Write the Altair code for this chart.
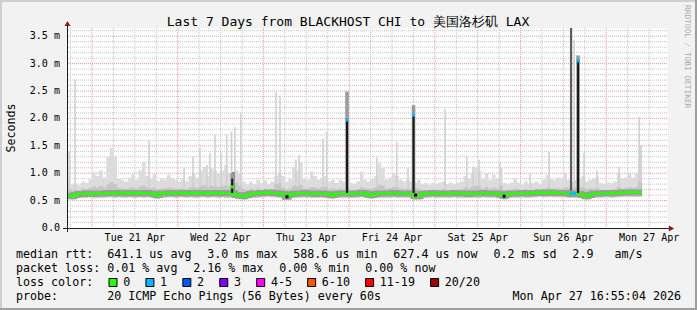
import altair as alt
import pandas as pd

# ---------------- text ----------------
title_text = "Last 7 Days from BLACKHOST CHI to 美国洛杉矶 LAX"
unit_label = "Seconds"
watermark = "RRDTOOL / TOBI OETIKER"

day_label_hours = [19, 43, 67, 91, 115, 139, 163]
day_labels = ["Tue 21 Apr", "Wed 22 Apr", "Thu 23 Apr", "Fri 24 Apr",
              "Sat 25 Apr", "Sun 26 Apr", "Mon 27 Apr"]
y_label_values = [0.0, 0.5, 1.0, 1.5, 2.0, 2.5, 3.0, 3.5]
y_labels = ["0.0", "0.5 m", "1.0 m", "1.5 m", "2.0 m", "2.5 m", "3.0 m", "3.5 m"]

rtt_stats = ["median rtt:  641.1 us avg", "3.0 ms max", "588.6 us min",
             "627.4 us now", "0.2 ms sd", "2.9   am/s"]
loss_stats = ["packet loss: 0.01 % avg", "2.16 % max", "0.00 % min", "0.00 % now"]
loss_title = "loss color:"
loss_labels = ["0", "1", "2", "3", "4-5", "6-10", "11-19", "20/20"]
loss_colors = ["#26ff00", "#00b8ff", "#0059ff", "#7e00ff",
               "#ff00ff", "#ff5500", "#ff0000", "#a10000"]
probe_text = "probe:       20 ICMP Echo Pings (56 Bytes) every 60s"
stamp_text = "Mon Apr 27 16:55:04 2026"

# ---------------- data (hours since Mon 20 Apr 17:00, values in ms) ----------------
smoke_max = [
    0.85, 0.80, 0.80, 0.78, 0.85, 0.82, 0.88, 1.02, 0.95, 1.05,
    0.92, 1.30, 1.46, 1.32, 0.90, 0.88, 0.85, 0.92, 0.98, 0.88,
    1.05, 1.21, 0.95, 0.90, 0.98, 0.86, 0.90, 0.88, 0.97, 0.90,
    0.87, 0.85, 0.90, 0.85, 0.95, 1.00, 0.92, 1.05, 1.12, 0.95,
    1.10, 1.05, 1.00, 1.05, 1.15, 1.00, 1.00, 1.05, 1.00, 0.85,
    0.80, 0.85, 0.80, 0.88, 0.82, 0.87, 0.80, 0.85, 0.95, 1.00,
    0.95, 0.85, 0.90, 1.12, 1.05, 1.20, 0.90, 0.88, 1.03, 0.95,
    0.88, 0.92, 0.95, 0.85, 0.88, 0.82, 0.88, 0.85, 0.90, 0.82,
    0.80, 0.85, 1.03, 0.88, 0.85, 0.90, 0.95, 1.18, 1.10, 0.88,
    0.92, 1.00, 0.95, 0.88, 0.85, 0.88, 0.85, 0.82, 0.88, 0.80,
    0.82, 0.78, 0.82, 0.80, 0.83, 0.85, 0.80, 0.83, 0.80, 0.82,
    0.85, 0.95, 0.90, 1.00, 1.10, 1.05, 0.90, 1.00, 0.88, 0.97,
    0.90, 1.10, 0.82, 0.80, 0.83, 0.90, 0.82, 0.80, 0.85, 0.80,
    0.82, 0.85, 0.80, 0.88, 0.97, 0.90, 0.88, 0.92, 0.90, 1.00,
    0.88, 0.85, 0.88, 0.90, 0.95, 0.85, 0.88, 0.90, 0.94, 0.82,
    0.80, 0.83, 0.82, 0.85, 1.00, 0.90, 0.92, 1.00, 0.92, 1.00, 1.51]
smoke_mid = [
    0.72, 0.70, 0.70, 0.69, 0.72, 0.71, 0.73, 0.76, 0.74, 0.77,
    0.74, 0.80, 0.84, 0.80, 0.73, 0.72, 0.71, 0.73, 0.75, 0.72,
    0.76, 0.78, 0.74, 0.72, 0.74, 0.71, 0.72, 0.72, 0.74, 0.72,
    0.72, 0.71, 0.72, 0.71, 0.74, 0.75, 0.73, 0.76, 0.78, 0.74,
    0.77, 0.76, 0.75, 0.76, 0.78, 0.75, 0.80, 0.82, 0.76, 0.71,
    0.69, 0.71, 0.69, 0.72, 0.70, 0.72, 0.69, 0.71, 0.80, 0.82,
    0.74, 0.71, 0.72, 0.77, 0.76, 0.79, 0.72, 0.72, 0.75, 0.74,
    0.72, 0.74, 0.75, 0.71, 0.72, 0.70, 0.72, 0.71, 0.74, 0.70,
    0.69, 0.71, 0.75, 0.72, 0.71, 0.72, 0.74, 0.79, 0.77, 0.72,
    0.73, 0.75, 0.74, 0.72, 0.71, 0.72, 0.71, 0.72, 0.72, 0.69,
    0.70, 0.69, 0.70, 0.69, 0.70, 0.71, 0.69, 0.70, 0.69, 0.70,
    0.71, 0.74, 0.72, 0.75, 0.77, 0.76, 0.72, 0.75, 0.72, 0.74,
    0.72, 0.77, 0.70, 0.69, 0.70, 0.72, 0.70, 0.69, 0.71, 0.69,
    0.70, 0.71, 0.70, 0.72, 0.74, 0.72, 0.72, 0.73, 0.72, 0.75,
    0.74, 0.73, 0.74, 0.73, 0.74, 0.71, 0.72, 0.72, 0.73, 0.70,
    0.69, 0.70, 0.70, 0.71, 0.75, 0.72, 0.73, 0.75, 0.73, 0.75, 0.85]
smoke_min = [
    0.53, 0.52, 0.54, 0.55, 0.55, 0.55, 0.56, 0.55, 0.55, 0.55,
    0.55, 0.56, 0.56, 0.55, 0.56, 0.55, 0.55, 0.56, 0.55, 0.55,
    0.56, 0.55, 0.56, 0.55, 0.54, 0.53, 0.55, 0.55, 0.56, 0.56,
    0.55, 0.56, 0.56, 0.55, 0.56, 0.55, 0.55, 0.56, 0.56, 0.55,
    0.56, 0.56, 0.55, 0.56, 0.55, 0.55, 0.56, 0.54, 0.53, 0.52,
    0.54, 0.55, 0.55, 0.55, 0.56, 0.56, 0.57, 0.56, 0.56, 0.55,
    0.54, 0.51, 0.54, 0.55, 0.55, 0.55, 0.56, 0.55, 0.55, 0.55,
    0.55, 0.55, 0.55, 0.54, 0.53, 0.55, 0.55, 0.55, 0.55, 0.55,
    0.55, 0.55, 0.56, 0.55, 0.54, 0.53, 0.55, 0.55, 0.55, 0.55,
    0.55, 0.56, 0.55, 0.55, 0.55, 0.55, 0.55, 0.52, 0.52, 0.55,
    0.55, 0.55, 0.56, 0.55, 0.55, 0.55, 0.55, 0.55, 0.56, 0.55,
    0.55, 0.55, 0.55, 0.55, 0.55, 0.55, 0.56, 0.55, 0.55, 0.55,
    0.55, 0.54, 0.52, 0.55, 0.55, 0.55, 0.55, 0.56, 0.55, 0.55,
    0.56, 0.56, 0.57, 0.56, 0.56, 0.57, 0.56, 0.56, 0.56, 0.56,
    0.55, 0.55, 0.55, 0.55, 0.53, 0.52, 0.54, 0.55, 0.55, 0.55,
    0.56, 0.56, 0.55, 0.56, 0.56, 0.57, 0.57, 0.57, 0.57, 0.57, 0.57]
median_rtt = [
    0.59, 0.58, 0.60, 0.62, 0.62, 0.63, 0.63, 0.62, 0.63, 0.63,
    0.63, 0.64, 0.64, 0.63, 0.64, 0.64, 0.63, 0.64, 0.64, 0.63,
    0.64, 0.63, 0.64, 0.63, 0.62, 0.60, 0.63, 0.63, 0.64, 0.64,
    0.63, 0.64, 0.64, 0.63, 0.64, 0.64, 0.63, 0.64, 0.64, 0.63,
    0.64, 0.64, 0.63, 0.64, 0.63, 0.63, 0.64, 0.60, 0.59, 0.58,
    0.60, 0.62, 0.63, 0.63, 0.64, 0.64, 0.65, 0.64, 0.64, 0.63,
    0.62, 0.57, 0.61, 0.62, 0.63, 0.63, 0.64, 0.63, 0.63, 0.62,
    0.63, 0.63, 0.62, 0.61, 0.60, 0.62, 0.63, 0.63, 0.63, 0.62,
    0.63, 0.63, 0.64, 0.63, 0.61, 0.60, 0.62, 0.63, 0.63, 0.63,
    0.63, 0.64, 0.63, 0.63, 0.63, 0.63, 0.63, 0.58, 0.58, 0.62,
    0.63, 0.63, 0.64, 0.63, 0.63, 0.63, 0.63, 0.63, 0.64, 0.63,
    0.63, 0.63, 0.62, 0.63, 0.63, 0.63, 0.64, 0.63, 0.63, 0.63,
    0.63, 0.61, 0.59, 0.62, 0.63, 0.63, 0.63, 0.64, 0.63, 0.63,
    0.64, 0.64, 0.65, 0.64, 0.64, 0.65, 0.64, 0.64, 0.64, 0.64,
    0.63, 0.62, 0.63, 0.62, 0.60, 0.58, 0.60, 0.63, 0.63, 0.63,
    0.64, 0.64, 0.63, 0.64, 0.64, 0.65, 0.65, 0.65, 0.65, 0.65, 0.65]

# thin smoke spikes (light grey)
spike_hours = [0.56, 2.24, 22.96, 32.8, 35.28, 37.24, 39.2, 40.04, 41.44, 43.12,
               44.72, 46.07, 47.0, 48.64, 58.53, 59.65, 64.1, 64.97, 71.69, 72.72,
               86.73, 92.33, 95.5, 105.85, 111.93, 113.69, 115.37, 121.25, 129.7,
               134.98, 141.98, 144.78, 148.4, 154.58, 160.18, 160.7]
spike_tops = [1.39, 2.71, 1.60, 1.10, 1.30, 1.46, 1.15, 1.37, 1.70, 1.37,
              1.70, 1.76, 1.85, 2.09, 2.48, 2.42, 1.25, 1.33, 1.64, 1.76,
              1.28, 1.57, 1.10, 2.18, 1.30, 1.12, 1.25, 1.21, 1.00,
              1.39, 3.44, 1.37, 1.05, 1.12, 2.03, 1.51]
# dense (dark) smoke columns
dark_hours = [46.6, 141.13]
dark_tops = [1.02, 3.70]
# median excursions (drawn black) with smoke above them
med_spike_hours = [46.25, 78.41, 97.03, 143.10]
med_spike_tops = [0.90, 1.97, 2.06, 3.05]
med_spike_smoke = [1.00, 2.49, 2.24, 3.15]
# median points coloured by loss
mark_hours = [46.25, 78.41, 97.03, 143.10, 141.13, 142.20, 61.6, 122.4, 97.6]
mark_values = [0.75, 1.97, 2.06, 3.05, 0.63, 0.63, 0.57, 0.58, 0.60]
mark_colors = ["#26ff00", "#00b8ff", "#00b8ff", "#00b8ff", "#00b8ff", "#00b8ff",
               "#000000", "#000000", "#000000"]

# ---------------- layout ----------------
X0, Y0, W, H = 67, 28, 600, 200
MONO = "DejaVu Sans Mono"
LEG = 11.66
AXF = 10.06
P, G = 7.02, 15.8
GRID = "#c4c4c4"
MGRID = "#ee9a9a"
SHADEA, SHADEB = "#cfcfcf", "#9e9e9e"

xs = alt.Scale(domain=[0, 168], nice=False, zero=False)
ys = alt.Scale(domain=[0, 3.65], nice=False, zero=False)
one = pd.DataFrame({"k": [0]})

major_test = "abs(datum.value * 2 - round(datum.value * 2)) < 0.001"
y_axis = alt.Axis(
    values=[round(0.1 * k, 1) for k in range(37)], title=None, grid=False, domain=False,
    ticks=True, tickSize=2, tickWidth=1, labels=False,
    tickColor={"condition": {"test": major_test, "value": MGRID}, "value": GRID})
x_axis = alt.Axis(
    values=[1 + 6 * k for k in range(28)], title=None, grid=False, domain=False,
    ticks=True, tickSize=2, tickWidth=1, labels=False,
    tickColor={"condition": {"test": "(datum.value - 7) % 24 == 0", "value": MGRID}, "value": GRID})

layers = []


def gdf(vals):
    return pd.DataFrame({"v": vals})


minor_h = [round(0.1 * k, 1) for k in range(1, 37) if k % 5 != 0]
major_h = [0.5 * k for k in range(1, 8)]
minor_v = [1 + 6 * k for k in range(28) if k % 4 != 1]
major_v = [7 + 24 * j for j in range(7)]

hx = alt.X("h:Q", scale=xs, axis=None)

n = len(smoke_max)
smoke = pd.DataFrame({
    "h": list(range(n)) + [n],
    "lo": smoke_min + [smoke_min[-1]],
    "mid": smoke_mid + [smoke_mid[-1]],
    "hi": smoke_max + [smoke_max[-1]],
    "m": median_rtt + [median_rtt[-1]],
})

# grid
layers.append(alt.Chart(gdf(minor_h)).mark_rule(color=GRID, strokeDash=[1, 1], strokeWidth=1).encode(
    y=alt.Y("v:Q", scale=ys, axis=None)))
layers.append(alt.Chart(gdf(major_h)).mark_rule(color=MGRID, strokeDash=[1, 1], strokeWidth=1).encode(
    y=alt.Y("v:Q", scale=ys, axis=None)))
layers.append(alt.Chart(gdf(minor_v)).mark_rule(color=GRID, strokeDash=[1, 1], strokeWidth=1).encode(
    x=alt.X("v:Q", scale=xs, axis=None)))
layers.append(alt.Chart(gdf(major_v)).mark_rule(color=MGRID, strokeDash=[1, 1], strokeWidth=1).encode(
    x=alt.X("v:Q", scale=xs, axis=None)))

# smoke (this layer carries the tick-only axes)
layers.append(alt.Chart(smoke).mark_area(interpolate="step-after", color="#dcdcdc", clip=True).encode(
    x=alt.X("h:Q", scale=xs, axis=x_axis), y=alt.Y("lo:Q", scale=ys, axis=y_axis), y2="hi:Q"))

sp = pd.DataFrame({"h": spike_hours, "top": spike_tops})
layers.append(alt.Chart(sp).transform_calculate(b="0.62").mark_rule(color="#d0d0d0", strokeWidth=1.6, clip=True).encode(
    x=hx, y=alt.Y("top:Q", scale=ys, axis=None), y2="b:Q"))

layers.append(alt.Chart(smoke).mark_area(interpolate="step-after", color="#c6c6c6", clip=True).encode(
    x=hx, y=alt.Y("lo:Q", scale=ys, axis=None), y2="mid:Q"))

dk = pd.DataFrame({"h": dark_hours, "top": dark_tops})
layers.append(alt.Chart(dk).transform_calculate(b="0.64").mark_rule(color="#5c5c5c", strokeWidth=2.2, clip=True).encode(
    x=hx, y=alt.Y("top:Q", scale=ys, axis=None), y2="b:Q"))

# median halo and line
layers.append(alt.Chart(smoke).mark_line(interpolate="step-after", color="#9c9c9c", strokeWidth=6, clip=True).encode(
    x=hx, y=alt.Y("m:Q", scale=ys, axis=None)))
layers.append(alt.Chart(smoke).mark_line(interpolate="step-after", color="#26ff00", strokeWidth=2.6, clip=True).encode(
    x=hx, y=alt.Y("m:Q", scale=ys, axis=None)))

ms = pd.DataFrame({"h": med_spike_hours, "top": med_spike_tops, "sm": med_spike_smoke})
layers.append(alt.Chart(ms).transform_calculate(b="0.64").mark_rule(color="#9a9a9a", strokeWidth=3.6, clip=True).encode(
    x=hx, y=alt.Y("sm:Q", scale=ys, axis=None), y2="b:Q"))
layers.append(alt.Chart(ms).transform_calculate(b="0.64").mark_rule(color="#161616", strokeWidth=2, clip=True).encode(
    x=hx, y=alt.Y("top:Q", scale=ys, axis=None), y2="b:Q"))

mk = pd.DataFrame({"h": mark_hours, "v": mark_values, "c": mark_colors})
layers.append(alt.Chart(mk).mark_square(size=9, opacity=1, clip=True).encode(
    x=hx, y=alt.Y("v:Q", scale=ys, axis=None), color=alt.Color("c:N", scale=None)))

# axis lines and arrows
layers.append(alt.Chart(one).mark_rule(color="#1f1f1f", strokeWidth=1).encode(
    x=alt.value(0.5), y=alt.value(-4), y2=alt.value(H + 4)))
layers.append(alt.Chart(one).mark_rule(color="#1f1f1f", strokeWidth=1).encode(
    x=alt.value(-4), x2=alt.value(W + 4), y=alt.value(H + 0.5)))
layers.append(alt.Chart(one).mark_point(shape="triangle-up", filled=True, size=36, color="#7f1f1f", opacity=1).encode(
    x=alt.value(0.5), y=alt.value(-4.5)))
layers.append(alt.Chart(one).mark_point(shape="triangle-right", filled=True, size=36, color="#7f1f1f", opacity=1).encode(
    x=alt.value(W + 4.5), y=alt.value(H + 0.5)))

# axis labels
dl = pd.DataFrame({"h": day_label_hours, "t": day_labels})
layers.append(alt.Chart(dl).mark_text(font=MONO, fontSize=AXF, color="#000000", align="center", baseline="alphabetic").encode(
    x=hx, y=alt.value(241 - Y0), text="t:N"))
yl = pd.DataFrame({"v": y_label_values, "t": y_labels})
layers.append(alt.Chart(yl).mark_text(font=MONO, fontSize=AXF, color="#000000", align="right", baseline="middle").encode(
    y=alt.Y("v:Q", scale=ys, axis=None), x=alt.value(-7), text="t:N"))


def text_at(s, ax, ay, size=LEG, align="left", angle=0, color="#000000"):
    return alt.Chart(one).mark_text(text=s.replace(" ", "\u00a0"), font=MONO, fontSize=size, align=align,
                                    baseline="alphabetic", angle=angle, color=color).encode(
        x=alt.value(ax - X0), y=alt.value(ay - Y0))


def rect_at(x1, y1, x2, y2, fill, stroke=None):
    kw = {"fill": fill, "opacity": 1}
    if stroke:
        kw.update(stroke=stroke, strokeWidth=1)
    return alt.Chart(one).mark_rect(**kw).encode(
        x=alt.value(x1 - X0), x2=alt.value(x2 - X0), y=alt.value(y1 - Y0), y2=alt.value(y2 - Y0))


layers.append(alt.Chart(one).mark_text(text=title_text, font=MONO, fontSize=13, align="center",
                                       baseline="alphabetic", color="#000000").encode(
    x=alt.value(348 - X0), y=alt.value(25.5 - Y0)))
layers.append(text_at(unit_label, 15, 128, align="center", angle=270))
layers.append(text_at(watermark, 685, 5, size=7.8, angle=90, color="#a8a8a8"))

# legend line 1
x = 16
for s in rtt_stats:
    layers.append(text_at(s, x, 258))
    x += len(s) * P + G
# legend line 2
x = 16
for s in loss_stats:
    layers.append(text_at(s, x, 272))
    x += len(s) * P + G
# legend line 3
layers.append(text_at(loss_title, 16, 286))
bx = 108.5
for lab, col in zip(loss_labels, loss_colors):
    layers.append(rect_at(bx + 0.5, 278.5, bx + 8.5, 286.5, col, stroke="#000000"))
    layers.append(text_at(lab, bx + 14.7, 286))
    bx += 14.7 + len(lab) * P + 15.2
# legend line 4
layers.append(text_at(probe_text, 16, 300))
layers.append(text_at(stamp_text, 681, 300, align="right"))

# frame shading
layers.append(rect_at(0, 0, 697, 2, SHADEA))
layers.append(rect_at(0, 0, 2, 310, SHADEA))
layers.append(rect_at(0, 308, 697, 310, SHADEB))
layers.append(rect_at(695, 0, 697, 310, SHADEB))

chart = alt.layer(*layers).properties(
    width=W, height=H,
    padding={"left": X0, "top": Y0, "right": 697 - X0 - W, "bottom": 310 - Y0 - H},
    autosize=alt.AutoSizeParams(type="none"),
    background="#f2f2f2",
).configure_view(fill="#ffffff", stroke="transparent")

chart.save("out.html", embed_options={"renderer": "svg", "actions": False})
